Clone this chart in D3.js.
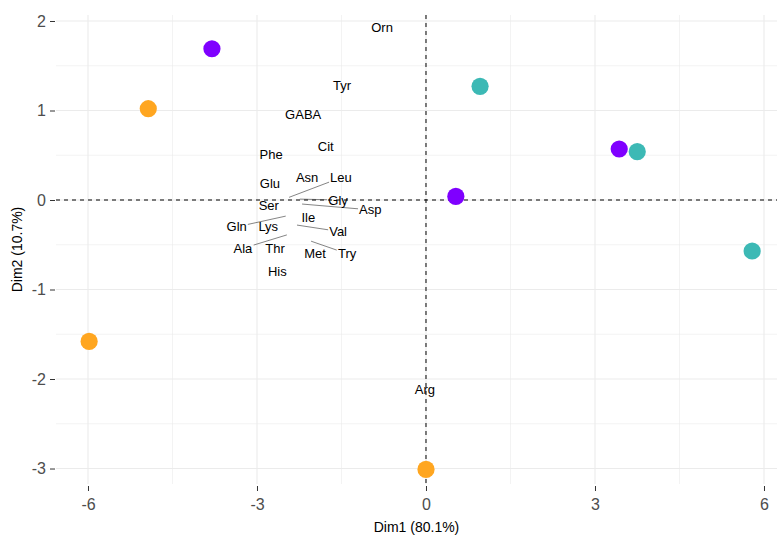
<!DOCTYPE html>
<html>
<head>
<meta charset="utf-8">
<script src="https://cdn.jsdelivr.net/npm/d3@7"></script>
<style>
  html, body { margin: 0; padding: 0; background: #fff; }
  svg { display: block; font-family: "Liberation Sans", Arial, sans-serif; }
</style>
</head>
<body>
<svg id="chart" width="777" height="535"></svg>
<script>
// Individuals (PCA scores) coloured by group
const indX = [-3.80, -4.93, -5.98, 0.96, 3.43, 3.75, 0.53, 5.79, 0.00];
const indY = [1.69, 1.02, -1.58, 1.27, 0.57, 0.54, 0.04, -0.57, -3.01];
const indGroup = ["A", "B", "B", "C", "A", "C", "A", "C", "B"];
const groupColors = { A: "#7F00FF", B: "#FFA620", C: "#3CB9B5" };

// Amino-acid labels: anchor point and repelled label position (Dim1, Dim2)
const varNames = ["Orn", "Tyr", "GABA", "Cit", "Phe", "Glu", "Asn", "Leu", "Ser", "Gly", "Asp",
                  "Ile", "Gln", "Lys", "Val", "Ala", "Thr", "Met", "Try", "His", "Arg"];
const varX   = [-0.78, -1.49, -2.18, -1.78, -2.75, -2.77, -2.11, -2.43, -2.79, -2.24, -2.20,
                -2.09, -2.49, -2.80, -2.29, -2.47, -2.68, -1.97, -2.04, -2.64, -0.02];
const varY   = [1.93, 1.28, 0.96, 0.60, 0.51, 0.19, 0.25, 0.03, -0.06, 0.01, -0.045,
                -0.20, -0.18, -0.30, -0.28, -0.39, -0.54, -0.60, -0.46, -0.80, -2.12];
const labelX = [-0.78, -1.49, -2.18, -1.78, -2.75, -2.77, -2.11, -1.51, -2.79, -1.56, -0.99,
                -2.09, -3.36, -2.80, -1.56, -3.25, -2.68, -1.97, -1.40, -2.64, -0.02];
const labelY = [1.93, 1.28, 0.96, 0.60, 0.51, 0.19, 0.25, 0.25, -0.06, 0.00, -0.11,
                -0.20, -0.30, -0.30, -0.35, -0.54, -0.54, -0.60, -0.60, -0.80, -2.12];

const xTicks = [-6, -3, 0, 3, 6];
const yTicks = [2, 1, 0, -1, -2, -3];
const xMinor = [-4.5, -1.5, 1.5, 4.5];
const yMinor = [1.5, 0.5, -0.5, -1.5, -2.5];
const xTitle = "Dim1 (80.1%)";
const yTitle = "Dim2 (10.7%)";

const panel = { left: 56, right: 777, top: 15, bottom: 484 };
const x = d3.scaleLinear().domain([-6.568, 6.231]).range([panel.left, panel.right]);
const y = d3.scaleLinear().domain([-3.173, 2.067]).range([panel.bottom, panel.top]);

const svg = d3.select("#chart");
const tickFmt = d => String(d); // plain hyphen-minus for negatives

// grid
const grid = svg.append("g");
grid.selectAll(".xminor").data(xMinor).join("line")
  .attr("x1", d => x(d)).attr("x2", d => x(d))
  .attr("y1", panel.top).attr("y2", panel.bottom)
  .attr("stroke", "#EBEBEB").attr("stroke-width", 0.6);
grid.selectAll(".yminor").data(yMinor).join("line")
  .attr("y1", d => y(d)).attr("y2", d => y(d))
  .attr("x1", panel.left).attr("x2", panel.right)
  .attr("stroke", "#EBEBEB").attr("stroke-width", 0.6);
grid.selectAll(".xmajor").data(xTicks).join("line")
  .attr("x1", d => x(d)).attr("x2", d => x(d))
  .attr("y1", panel.top).attr("y2", panel.bottom)
  .attr("stroke", "#EBEBEB").attr("stroke-width", 1.1);
grid.selectAll(".ymajor").data(yTicks).join("line")
  .attr("y1", d => y(d)).attr("y2", d => y(d))
  .attr("x1", panel.left).attr("x2", panel.right)
  .attr("stroke", "#EBEBEB").attr("stroke-width", 1.1);

// axes
const xAxis = d3.axisBottom(x).tickValues(xTicks).tickSize(5).tickPadding(5).tickFormat(tickFmt);
const yAxis = d3.axisLeft(y).tickValues(yTicks).tickSize(5).tickPadding(4).tickFormat(tickFmt);
const gx = svg.append("g").attr("transform", `translate(0,${panel.bottom + 2})`).call(xAxis);
const gy = svg.append("g").attr("transform", `translate(${panel.left - 1},0)`).call(yAxis);
[gx, gy].forEach(g => {
  g.select(".domain").remove();
  g.selectAll(".tick line").attr("stroke", "#333").attr("stroke-width", 1);
  g.selectAll(".tick text").attr("fill", "#4D4D4D").style("font-size", "16px")
    .style("font-family", "'Liberation Sans', Arial, sans-serif");
});
gx.selectAll(".tick text").attr("dy", "0.85em");

// origin reference lines
svg.append("line")
  .attr("x1", x(0)).attr("x2", x(0)).attr("y1", panel.top).attr("y2", panel.bottom)
  .attr("stroke", "#000").attr("stroke-dasharray", "4,4").attr("stroke-width", 1);
svg.append("line")
  .attr("y1", y(0)).attr("y2", y(0)).attr("x1", panel.left).attr("x2", panel.right)
  .attr("stroke", "#000").attr("stroke-dasharray", "4,4").attr("stroke-width", 1);

// variable labels with leader segments
const fontSize = 13;
const vars = varNames.map((n, i) => ({ n, px: x(varX[i]), py: y(varY[i]), lx: x(labelX[i]), ly: y(labelY[i]) }));
const labG = svg.append("g");
const texts = labG.selectAll("text").data(vars).join("text")
  .attr("x", d => d.lx).attr("y", d => d.ly)
  .attr("text-anchor", "middle").attr("dy", "0.35em")
  .style("font-size", fontSize + "px").attr("fill", "#000")
  .text(d => d.n);
texts.each(function (d) {
  const b = this.getBBox();
  d.hw = b.width / 2 + 1;
  d.hh = fontSize / 2 + 0.5;
});
const clipT = d => {
  const dx = d.px - d.lx, dy = d.py - d.ly;
  return Math.min(d.hw / Math.abs(dx || 1e-9), d.hh / Math.abs(dy || 1e-9));
};
const segs = vars.filter(d => Math.hypot(d.lx - d.px, d.ly - d.py) > 8);
labG.selectAll("line").data(segs).join("line")
  .attr("x1", d => d.px).attr("y1", d => d.py)
  .attr("x2", d => d.lx + (d.px - d.lx) * clipT(d))
  .attr("y2", d => d.ly + (d.py - d.ly) * clipT(d))
  .attr("stroke", "#333").attr("stroke-width", 0.6);
labG.selectAll("text").raise();

// individuals
svg.append("g").selectAll("circle").data(indX.map((v, i) => i)).join("circle")
  .attr("cx", i => x(indX[i])).attr("cy", i => y(indY[i])).attr("r", 8.6)
  .attr("fill", i => groupColors[indGroup[i]]);

// axis titles
svg.append("text").attr("x", (panel.left + panel.right) / 2).attr("y", 532)
  .attr("text-anchor", "middle").style("font-size", "14px").attr("fill", "#000").text(xTitle);
svg.append("text").attr("transform", `translate(22,${(panel.top + panel.bottom) / 2}) rotate(-90)`)
  .attr("text-anchor", "middle").style("font-size", "14px").attr("fill", "#000").text(yTitle);
</script>
</body>
</html>
